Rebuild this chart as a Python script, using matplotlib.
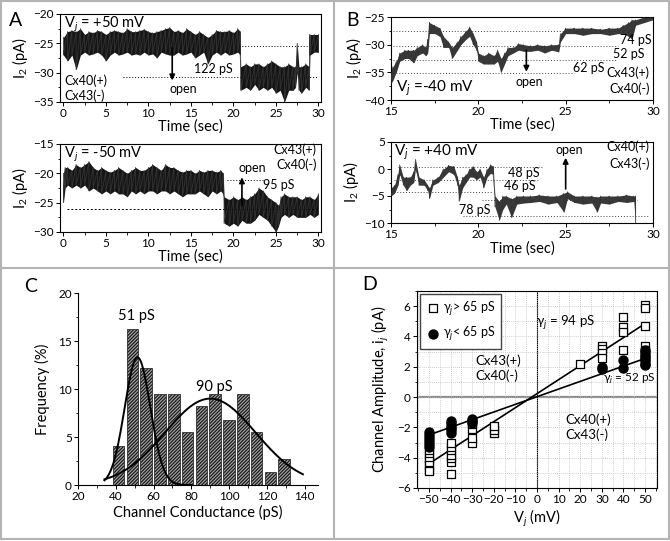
import numpy as np
import matplotlib.pyplot as plt
from matplotlib.ticker import MultipleLocator
from matplotlib.lines import Line2D

plt.rcParams['font.family'] = ['Lato', 'DejaVu Sans']
plt.rcParams['mathtext.fontset'] = 'custom'
plt.rcParams['mathtext.rm'] = 'Lato'
plt.rcParams['mathtext.it'] = 'Lato:italic'
plt.rcParams['hatch.linewidth'] = 0.9
plt.rcParams['hatch.color'] = '#111111'
plt.rcParams['axes.linewidth'] = 0.8

# ---- panel A, top trace (Vj = +50 mV)
a1_t = [0, 0.5, 1, 1.5, 2, 2.5, 3, 3.5, 4, 4.5, 5, 5.5, 6, 6.5, 7, 7.5, 8, 8.5, 9, 9.5,
        10, 10.5, 11, 11.5, 12, 12.5, 13, 13.5, 14, 14.5, 15, 15.5, 16, 16.5, 17, 17.5,
        18, 18.5, 19, 19.5, 20, 20.5, 20.8, 20.85, 21.5, 22, 22.5, 23, 23.5, 24, 24.5,
        25, 25.5, 26, 26.5, 27, 27.3, 27.5, 27.7, 28, 28.5, 28.9, 29, 29.5, 30]
a1_hi = [-24, -23, -22.8, -23, -22.5, -23.5, -23, -23.2, -22.8, -23, -23.5, -23, -22.8, -23,
         -23.2, -22.5, -23, -23, -22.8, -22.6, -23, -23.2, -23, -22.8, -22.5, -22.3, -23,
         -22.8, -23.2, -22.5, -23, -23.5, -23, -23.5, -24, -23.5, -22.8, -23, -23, -22.8,
         -23.2, -22.5, -23, -29, -28.5, -29, -28.5, -28.5, -29, -28.5, -28, -28.5, -29, -29,
         -28.5, -29, -29, -25, -29, -29, -28.5, -29, -23.5, -23.5, -23.5]
a1_lo = [-27, -28, -27, -29.5, -27, -26.5, -27, -26.8, -26.5, -27, -28, -27, -26.5, -27,
         -26.8, -26.5, -27, -26.8, -27, -26.5, -27, -26.8, -27.5, -26.5, -26.8, -27, -27,
         -26.5, -27, -26.8, -26.5, -27.5, -27, -26.5, -28.5, -27, -26.5, -27, -26.5, -27,
         -26.8, -26.5, -27, -33, -32.5, -33, -32, -33, -32.5, -33, -32.5, -33.5, -33, -35,
         -33, -33, -32.5, -30, -33, -33.5, -32.5, -33, -27, -26.5, -26.5]

# ---- panel A, bottom trace (Vj = -50 mV)
a2_t = [0, 0.2, 0.5, 1, 1.5, 2, 2.5, 3, 3.5, 4, 4.5, 5, 5.5, 6, 6.5, 7, 7.5, 8, 8.5, 9,
        9.5, 10, 10.5, 11, 11.5, 12, 12.5, 13, 13.5, 14, 14.5, 15, 15.5, 16, 16.5, 17,
        17.5, 18, 18.5, 18.8, 18.9, 19.5, 20, 20.5, 21, 21.5, 22, 22.5, 23, 23.5, 24,
        24.5, 25, 25.3, 25.6, 26, 26.5, 27, 27.5, 28, 28.5, 29, 29.5, 30]
a2_hi = [-20, -19, -19, -19.5, -18.5, -19, -18.5, -18, -19, -19.5, -19, -19.5, -19.8, -19.5,
         -19, -19.5, -20, -19.5, -19, -19.5, -19.5, -19, -18.5, -19, -19.5, -18.5, -19, -19,
         -19.5, -19.8, -19.5, -19.5, -20, -19.5, -19.8, -19.5, -19.5, -19.8, -19.5, -20,
         -24, -24.5, -24, -24.5, -24, -24.5, -24, -23.5, -22.5, -23, -24, -24.5, -25, -25.5,
         -24, -23.5, -24, -24, -24, -24.5, -24, -24, -24.5, -23.5]
a2_lo = [-25, -22.5, -22, -22.5, -22, -22.5, -22, -23, -22.5, -23, -23.5, -23, -23.5, -23,
         -23.5, -23.5, -24, -23, -23.5, -23, -23.5, -23, -23, -23.5, -23, -23, -23.5, -23,
         -23.5, -24, -23.5, -23.5, -23.5, -23, -23.5, -24, -23, -23.5, -23, -23.5, -28.5,
         -29, -28.5, -29, -28, -28.5, -28.5, -28, -27, -27.5, -28, -29, -30, -29, -27.5,
         -27, -27.5, -27, -27.5, -27.5, -27.5, -27, -27.5, -27]

# ---- panel B, top trace (Vj = -40 mV)
b1_t = [15.0, 15.1, 15.3, 15.5, 15.8, 16.0, 16.3, 16.5, 16.8, 17.0, 17.1, 17.2, 17.5, 17.8,
        18.0, 18.3, 18.5, 18.8, 19.0, 19.3, 19.5, 19.7, 19.9, 20.0, 20.3, 20.6, 20.9, 21.1,
        21.3, 21.5, 21.7, 22.0, 22.3, 22.6, 23.0, 23.4, 23.8, 24.2, 24.6, 24.7, 25.0, 25.5,
        26.0, 26.5, 27.0, 27.5, 28.0, 28.3, 28.6, 28.8, 29.0, 29.5, 30.0]
b1_hi = [-35, -34, -33, -31.5, -31, -31, -31, -30.5, -30, -30.5, -29, -26, -26.5, -27, -28.5,
         -29.5, -30.5, -29.5, -28.5, -27.5, -26.8, -28, -29.5, -31.5, -32, -31.5, -32, -31,
         -32.5, -31.5, -30.5, -30.5, -29.8, -30, -30.2, -30, -30.2, -30, -30, -28, -27, -27,
         -27, -27, -27.2, -27, -27, -26.5, -26, -25.5, -25.5, -25, -24.8]
b1_lo = [-37, -36.5, -35, -33, -32.5, -32.5, -33.3, -32, -31.5, -32, -31.5, -28, -28, -28.5,
         -30.5, -30.5, -32.5, -31, -30, -29, -28.5, -30, -31, -33, -33.5, -33.5, -33.5, -33,
         -35, -33.5, -32, -31.5, -31, -31.2, -31.2, -31, -31.5, -31, -31.3, -29.5, -28, -28,
         -28.3, -28, -28, -28.3, -28, -28, -28.5, -29, -26.5, -26, -25.5]

# ---- panel B, bottom trace (Vj = +40 mV)
b2_t = [15.0, 15.2, 15.4, 15.5, 15.7, 15.9, 16.1, 16.3, 16.4, 16.6, 16.9, 17.1, 17.2, 17.4,
        17.7, 18.0, 18.3, 18.6, 18.8, 18.9, 19.1, 19.3, 19.5, 19.7, 19.9, 20.1, 20.3, 20.5,
        20.7, 20.85, 20.95, 21.2, 21.4, 21.6, 21.9, 22.2, 22.6, 23.0, 23.5, 24.0, 24.5, 24.9,
        25.1, 25.5, 26.0, 26.5, 26.8, 27.0, 27.5, 28.0, 28.5, 28.9, 29.0]
b2_hi = [-3.5, -3, -1, 0.8, -1.5, -1.5, -1.5, -0.5, 1.8, -1.5, -2, -3, -3.5, -2, -1.5, 0, 0.7,
         0.5, -1.5, -3, -1.5, -1, 0, 0.5, -0.5, 0, -1.5, 0, 0.8, 0.5, -5, -6, -5, -5, -5.5,
         -5, -5, -5, -4.8, -5, -5, -4.5, -4.2, -5, -5, -5, -5.2, -5, -5, -5, -4.8, -5, -5]
b2_lo = [-5, -4.5, -3, -1, -3, -4, -3, -2.5, 0, -3, -3, -4, -5.5, -3, -2.5, -1.5, -0.5, -1,
         -3, -6, -3.5, -2.5, -1.5, -1.5, -2, -1.5, -3.5, -1.5, -0.8, -1, -7, -9.5, -7.5, -6.5,
         -9, -6.5, -6.3, -6.2, -6, -6.5, -6.2, -8, -5.5, -6.2, -6.5, -6.3, -8, -6.3, -6.5, -6,
         -6.2, -6, -10]

# ---- panel C, conductance histogram and Gaussian fits
hist_centers = [41.5, 48.8, 56.1, 63.4, 70.7, 78.0, 85.3, 92.6, 99.9, 107.2, 114.5, 121.8, 129.1]
hist_freq = [4.1, 16.2, 12.2, 9.5, 9.5, 5.5, 8.2, 9.5, 6.8, 9.5, 5.5, 1.4, 2.7]
fit_peak = [13.3, 9.0]
fit_mean = [51.5, 90.0]
fit_sd = [6.8, 24.0]
fit_range = [(34, 80), (34, 139)]

# ---- panel D, unitary current vs Vj
sq_v = [-50, -50, -50, -50, -50, -50, -50,
        -40, -40, -40, -40, -40, -40, -40,
        -30, -30, -30, -30, -20, -20, -20,
        20, 30, 30, 30, 30, 40, 40, 40, 40, 50, 50, 50, 50, 50]
sq_i = [-3.5, -3.7, -4.0, -4.2, -4.5, -4.8, -4.9,
        -5.1, -4.3, -4.0, -3.8, -3.5, -3.3, -3.0,
        -3.0, -2.7, -2.1, -1.8, -2.4, -2.2, -1.9,
        2.2, 3.4, 3.2, 2.9, 2.6, 5.3, 4.6, 4.3, 3.1, 6.1, 5.9, 4.7, 3.4, 3.1]
ci_v = [-50, -50, -50, -50, -50, -50, -40, -40, -40, -40, -40, -40, -30, -30, -30,
        30, 30, 40, 40, 50, 50, 50, 50, 50, 50, 50, 50]
ci_i = [-2.3, -2.5, -2.7, -2.9, -3.1, -3.3, -1.55, -1.7, -1.9, -2.05, -2.2, -2.35, -1.45,
        -1.55, -1.7, 2.0, 1.85, 2.45, 1.9, 3.1, 2.95, 2.8, 2.65, 2.5, 2.35, 2.2, 2.1]
fit_v = [-50, 50]
fit_94 = [-4.4, 4.85]
fit_52 = [-2.5, 2.55]

W, H = 670, 541
fig = plt.figure(figsize=(W / 100, H / 100), dpi=100)


def px_axes(l, t, r, b):
    return fig.add_axes([l / W, 1 - b / H, (r - l) / W, (b - t) / H])


def draw_trace(ax, t, hi, lo, fill='#151515', lw=0.6):
    ax.fill_between(t, lo, hi, color=fill, lw=0, zorder=2)
    xs = np.repeat(t, 2)
    ys = np.column_stack([hi, lo]).ravel()
    ax.plot(xs, ys, color='#333333', lw=lw, zorder=3)


def style(ax, fs=8.5):
    ax.tick_params(which='both', direction='out', labelsize=fs, pad=1.5)
    ax.tick_params(which='major', length=3, width=0.7)
    ax.tick_params(which='minor', length=1.8, width=0.6)


# frames
fr = dict(color='#b4b4b4', lw=1.5, transform=fig.transFigure)
for xs, ys in [([1, 669], [1, 1]), ([1, 669], [539, 539]), ([1, 1], [1, 539]),
               ([669, 669], [1, 539]), ([334, 334], [1, 539]), ([1, 669], [268, 268])]:
    fig.add_artist(Line2D([x / W for x in xs], [1 - y / H for y in ys], **fr))

# ---------------- A top
ax = px_axes(60, 14, 321, 102)
draw_trace(ax, a1_t, a1_hi, a1_lo)
ax.set_xlim(-0.4, 30.3)
ax.set_ylim(-35, -20)
ax.hlines(-25.5, 20.6, 30, colors='black', linestyles=(0, (1, 2)), lw=0.7)
ax.hlines(-30.8, 7, 30, colors='black', linestyles=(0, (1, 2)), lw=0.7)
ax.annotate('', xy=(12.8, -31.8), xytext=(12.8, -25.3),
            arrowprops=dict(arrowstyle='-|>', color='black', lw=1.2, mutation_scale=8))
ax.text(14.1, -32.7, 'open', ha='center', va='center', fontsize=9)
ax.text(17.6, -29.3, '122 pS', ha='center', va='center', fontsize=9)
ax.text(0.1, -22.4, 'V$_j$ = +50 mV', fontsize=10.5, va='baseline', zorder=1)
ax.text(0.1, -31.4, 'Cx40(+)', fontsize=9, va='center')
ax.text(0.1, -33.9, 'Cx43(-)', fontsize=9, va='center')
ax.xaxis.set_major_locator(MultipleLocator(5))
ax.xaxis.set_minor_locator(MultipleLocator(2.5))
ax.yaxis.set_major_locator(MultipleLocator(5))
ax.yaxis.set_minor_locator(MultipleLocator(2.5))
style(ax)
ax.set_xlabel('Time (sec)', fontsize=10.5, labelpad=0)
ax.set_ylabel('I$_2$ (pA)', fontsize=10.5, labelpad=2)

# ---------------- A bottom
ax = px_axes(60, 144, 321, 232)
draw_trace(ax, a2_t, a2_hi, a2_lo)
ax.set_xlim(-0.4, 30.3)
ax.set_ylim(-30, -15)
ax.hlines(-21.1, 19.2, 23.5, colors='black', linestyles=(0, (1, 2)), lw=0.7)
ax.hlines(-26.0, 0.4, 30, colors='black', linestyles=(0, (2, 2)), lw=0.7)
ax.annotate('', xy=(21.0, -20.2), xytext=(21.0, -26.0),
            arrowprops=dict(arrowstyle='-|>', color='black', lw=1.2, mutation_scale=8))
ax.text(22.2, -19.1, 'open', ha='center', va='center', fontsize=9)
ax.text(25.3, -22.0, '95 pS', ha='center', va='center', fontsize=9)
ax.text(0.1, -17.4, 'V$_j$ = -50 mV', fontsize=10.5, va='baseline', zorder=1)
ax.text(29.8, -15.9, 'Cx43(+)', fontsize=9, va='center', ha='right')
ax.text(29.8, -18.6, 'Cx40(-)', fontsize=9, va='center', ha='right')
ax.xaxis.set_major_locator(MultipleLocator(5))
ax.xaxis.set_minor_locator(MultipleLocator(2.5))
ax.yaxis.set_major_locator(MultipleLocator(5))
ax.yaxis.set_minor_locator(MultipleLocator(2.5))
style(ax)
ax.set_xlabel('Time (sec)', fontsize=10.5, labelpad=0)
ax.set_ylabel('I$_2$ (pA)', fontsize=10.5, labelpad=2)

# ---------------- B top
ax = px_axes(391, 17, 653, 100)
ax.set_xlim(15, 30)
ax.set_ylim(-40, -25)
for y, x1 in [(-27.5, 28.4), (-30.3, 28.0), (-32.8, 27.9), (-35.2, 25.5)]:
    ax.hlines(y, 15.1, x1, colors='#444444', linestyles=(0, (1, 2)), lw=0.7)
draw_trace(ax, b1_t, b1_hi, b1_lo, fill='#3a3a3a', lw=0.5)
ax.annotate('', xy=(22.75, -35.4), xytext=(22.75, -30.5),
            arrowprops=dict(arrowstyle='-|>', color='black', lw=1.2, mutation_scale=8))
ax.text(22.9, -36.7, 'open', ha='center', va='center', fontsize=9)
ax.text(29.0, -29.2, '74 pS', ha='center', va='center', fontsize=9)
ax.text(28.6, -31.7, '52 pS', ha='center', va='center', fontsize=9)
ax.text(26.3, -34.2, '62 pS', ha='center', va='center', fontsize=9)
ax.text(15.3, -38.5, 'V$_j$ =-40 mV', fontsize=11, va='baseline')
ax.text(29.8, -35.1, 'Cx43(+)', fontsize=9, va='center', ha='right')
ax.text(29.8, -37.9, 'Cx40(-)', fontsize=9, va='center', ha='right')
ax.xaxis.set_major_locator(MultipleLocator(5))
ax.xaxis.set_minor_locator(MultipleLocator(2.5))
ax.yaxis.set_major_locator(MultipleLocator(5))
ax.yaxis.set_minor_locator(MultipleLocator(2.5))
style(ax)
ax.set_xlabel('Time (sec)', fontsize=10.5, labelpad=0)
ax.set_ylabel('I$_2$ (pA)', fontsize=10.5, labelpad=0)

# ---------------- B bottom
ax = px_axes(391, 142, 653, 223)
ax.set_xlim(15, 30)
ax.set_ylim(-10, 5)
for y, x0, x1 in [(0.3, 15.4, 23.7), (-2.0, 15.2, 23.5), (-4.2, 15.0, 20.8),
                  (-5.7, 20.2, 29.1), (-8.65, 19.1, 29.7)]:
    ax.hlines(y, x0, x1, colors='#444444', linestyles=(0, (1, 2)), lw=0.7)
draw_trace(ax, b2_t, b2_hi, b2_lo, fill='#3a3a3a', lw=0.5)
ax.annotate('', xy=(25.0, 2.6), xytext=(25.0, -4.2),
            arrowprops=dict(arrowstyle='-|>', color='black', lw=1.2, mutation_scale=8))
ax.text(25.2, 2.4, 'open', ha='center', va='bottom', fontsize=9)
ax.text(22.6, -0.7, '48 pS', ha='center', va='center', fontsize=9)
ax.text(22.4, -3.1, '46 pS', ha='center', va='center', fontsize=9)
ax.text(19.8, -7.6, '78 pS', ha='center', va='center', fontsize=9)
ax.text(15.2, 2.5, 'V$_j$ = +40 mV', fontsize=11, va='baseline', zorder=1)
ax.text(29.8, 4.1, 'Cx40(+)', fontsize=9, va='center', ha='right')
ax.text(29.8, 1.0, 'Cx43(-)', fontsize=9, va='center', ha='right')
ax.xaxis.set_major_locator(MultipleLocator(5))
ax.xaxis.set_minor_locator(MultipleLocator(2.5))
ax.yaxis.set_major_locator(MultipleLocator(5))
ax.yaxis.set_minor_locator(MultipleLocator(2.5))
style(ax)
ax.set_xlabel('Time (sec)', fontsize=10.5, labelpad=1)
ax.set_ylabel('I$_2$ (pA)', fontsize=10.5, labelpad=2)

# ---------------- C
ax = px_axes(78, 293, 318, 485)
ax.bar(hist_centers, hist_freq, width=6.2, color='#a8a8a8', hatch='//////////',
       edgecolor='#1a1a1a', lw=0.5, zorder=2)
for a, m, s, (x0, x1) in zip(fit_peak, fit_mean, fit_sd, fit_range):
    xx = np.linspace(x0, x1, 200)
    ax.plot(xx, a * np.exp(-(xx - m) ** 2 / (2 * s ** 2)), color='black', lw=1.4, zorder=3)
ax.text(51, 17.6, '51 pS', ha='center', va='center', fontsize=10.5)
ax.text(92.3, 10.2, '90 pS', ha='center', va='center', fontsize=10.5)
ax.set_xlim(20, 147)
ax.set_ylim(0, 20)
ax.spines['top'].set_visible(False)
ax.spines['right'].set_visible(False)
ax.xaxis.set_major_locator(MultipleLocator(20))
ax.xaxis.set_minor_locator(MultipleLocator(10))
ax.yaxis.set_major_locator(MultipleLocator(5))
ax.yaxis.set_minor_locator(MultipleLocator(2.5))
style(ax)
ax.set_xlabel('Channel Conductance (pS)', fontsize=10.5, labelpad=2)
ax.set_ylabel('Frequency (%)', fontsize=10.5, labelpad=6)

# ---------------- D
ax = px_axes(417, 291, 657, 488)
ax.set_xlim(-55.5, 55.5)
ax.set_ylim(-6, 7)
ax.xaxis.set_major_locator(MultipleLocator(10))
ax.xaxis.set_minor_locator(MultipleLocator(5))
ax.yaxis.set_major_locator(MultipleLocator(2))
ax.yaxis.set_minor_locator(MultipleLocator(1))
ax.grid(which='both', color='#bdbdbd', ls=(0, (1, 1.5)), lw=0.6, zorder=0)
ax.axhline(0, color='#8a8a8a', lw=1.6, zorder=1)
ax.axvline(0, color='black', lw=0.8, zorder=1)
ax.plot(fit_v, fit_94, color='black', lw=1.2, zorder=3)
ax.plot(fit_v, fit_52, color='black', lw=1.2, zorder=3)
ax.scatter(sq_v, sq_i, marker='s', s=38, facecolors='white', edgecolors='black',
           linewidths=0.9, zorder=4, label='\u03b3$_j$> 65 pS')
ax.scatter(ci_v, ci_i, marker='o', s=42, color='black', zorder=5, label='\u03b3$_j$< 65 pS')
ax.legend(loc='upper left', fontsize=9, frameon=True, fancybox=False, edgecolor='#444444',
          borderaxespad=0.2, handletextpad=0.2, handlelength=1.2, labelspacing=0.55,
          borderpad=0.45, framealpha=1)
ax.text(13.4, 4.9, '\u03b3$_j$ = 94 pS', ha='center', va='center', fontsize=9.5)
ax.text(30.7, 1.2, '\u03b3$_j$ = 52 pS', ha='left', va='center', fontsize=8.5, zorder=2)
ax.text(-28.5, 2.4, 'Cx43(+)', ha='left', va='center', fontsize=9.5)
ax.text(-28.5, 1.4, 'Cx40(-)', ha='left', va='center', fontsize=9.5)
ax.text(13, -1.5, 'Cx40(+)', ha='left', va='center', fontsize=9.5)
ax.text(13, -2.5, 'Cx43(-)', ha='left', va='center', fontsize=9.5)
style(ax)
ax.set_xlabel('V$_j$ (mV)', fontsize=10.5, labelpad=2)
ax.set_ylabel('Channel Amplitude, i$_j$ (pA)', fontsize=10.5, labelpad=4)

# panel letters
for lab, x, y in [('A', 16, 21), ('B', 352, 20), ('C', 31, 287), ('D', 370, 284)]:
    fig.text(x / W, 1 - y / H, lab, fontsize=14, ha='center', va='center')

fig.savefig('out.png', dpi=100)
